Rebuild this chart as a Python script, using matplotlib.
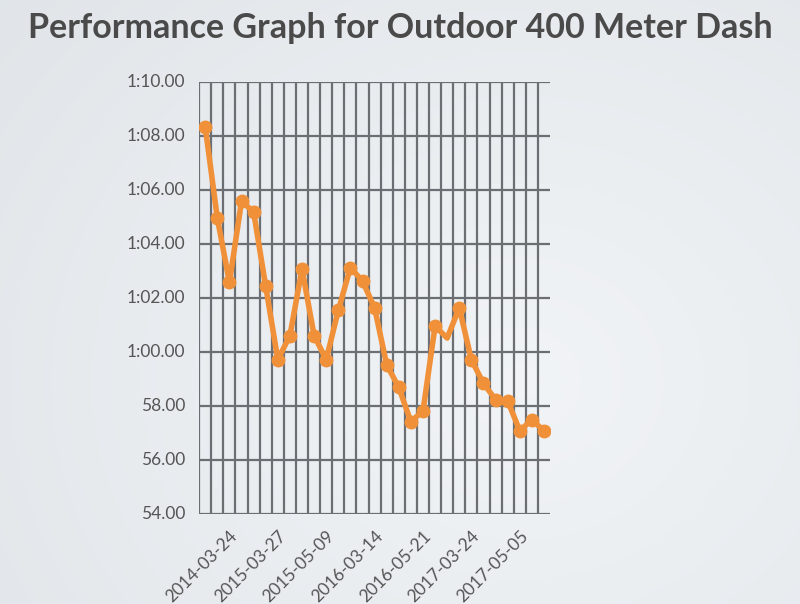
import numpy as np
import matplotlib
matplotlib.use("Agg")
import matplotlib.pyplot as plt

# ---- data ----
times = [68.35, 64.97, 62.60, 65.60, 65.20, 62.44, 59.73, 60.62, 63.09, 60.62,
         59.73, 61.56, 63.14, 62.64, 61.65, 59.54, 58.70, 57.43, 57.83, 60.97,
         60.53, 61.65, 59.73, 58.85, 58.25, 58.21, 57.09, 57.51, 57.09]
tick_labels = ["2014-03-24", "2015-03-27", "2015-05-09", "2016-03-14",
               "2016-05-21", "2017-03-24", "2017-05-05"]
y_ticks = [54, 56, 58, 60, 62, 64, 66, 68, 70]
y_tick_labels = ["54.00", "56.00", "58.00", "1:00.00", "1:02.00", "1:04.00",
                 "1:06.00", "1:08.00", "1:10.00"]
no_marker = [20]

FONT = ["Lato", "DejaVu Sans"]
fig = plt.figure(figsize=(8, 6.04), dpi=100)

# background radial gradient
bg = fig.add_axes([0, 0, 1, 1], zorder=-10)
yy, xx = np.mgrid[0:604, 0:800]
r = np.sqrt(((xx - 520) / 750.0) ** 2 + ((yy - 380) / 650.0) ** 2)
r = np.clip(r, 0, 1)
c_in = np.array([0.947, 0.957, 0.967])
c_out = np.array([0.875, 0.892, 0.908])
img = c_in[None, None, :] * (1 - r[..., None]) + c_out[None, None, :] * r[..., None]
bg.imshow(img, aspect="auto", extent=[0, 1, 0, 1], origin="upper")
bg.axis("off")

ax = fig.add_axes([0.249, 0.1485, 0.4385, 0.715])
ax.set_facecolor("none")
x = np.arange(len(times))
grid_c = "#6b6e72"
ax.set_xlim(-0.5, len(times) - 0.5)
ax.set_ylim(54, 70)

for yv in y_ticks:
    ax.axhline(yv, color=grid_c, lw=1.6, zorder=1)
for xv in np.arange(-0.5, len(times) - 1, 1.0):
    ax.axvline(xv, color=grid_c, lw=1.6, zorder=1)

orange = "#f0913a"
ax.plot(x, times, color=orange, lw=4.0, zorder=3, solid_joinstyle="round")
mk = [i for i in range(len(times)) if i not in no_marker]
ax.plot(x[mk], np.array(times)[mk], "o", color=orange, ms=9, zorder=4)

for s in ax.spines.values():
    s.set_visible(False)
ax.set_yticks(y_ticks)
ax.set_yticklabels(y_tick_labels, family=FONT, fontsize=12.5, color="#555555",
                   va="bottom")
ax.set_xticks(np.arange(2, len(times), 4))
ax.set_xticklabels(tick_labels, rotation=45, ha="right", rotation_mode="anchor",
                   family=FONT, fontsize=12.5, color="#555555")
ax.tick_params(axis="both", length=0, pad=10)
ax.tick_params(axis="y", pad=10)
for t in ax.get_yticklabels():
    t.set_y(t.get_position()[1])
    t.set_verticalalignment("center")

fig.text(0.5, 0.953, "Performance Graph for Outdoor 400 Meter Dash",
         ha="center", va="center", family=FONT, fontweight="bold",
         fontsize=24.5, color="#4a4a4a")

fig.savefig("out.png", dpi=100)
